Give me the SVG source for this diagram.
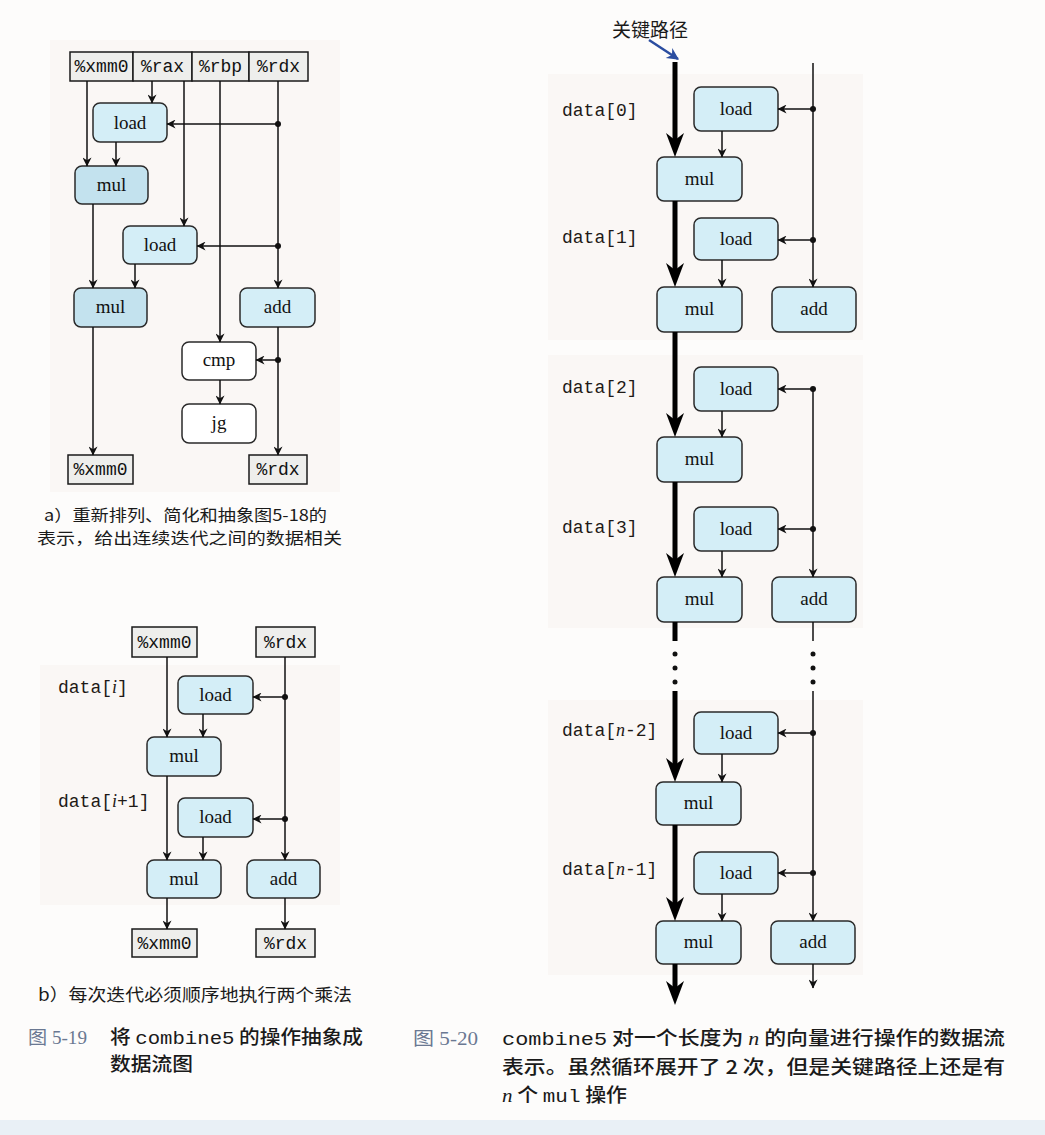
<svg xmlns="http://www.w3.org/2000/svg" width="1045" height="1135" viewBox="0 0 1045 1135">
<defs>
<style>
.bg{fill:#fdfcfb}
.panel{fill:#faf7f5}
.node{fill:#d4eef7;stroke:#2a2a2a;stroke-width:1.5}
.mulA{fill:#c3e2ee;stroke:#2a2a2a;stroke-width:1.5}
.plain{fill:#ffffff;stroke:#2a2a2a;stroke-width:1.5}
.reg{fill:#eeeeec;stroke:#1a1a1a;stroke-width:1.5}
.lbl{font-family:"Liberation Serif","Times New Roman",serif;font-size:19px;fill:#111;text-anchor:middle}
.rlbl{font-family:"Liberation Mono","Courier New",monospace;font-size:18px;fill:#111;text-anchor:middle}
.data{font-family:"Liberation Mono","Courier New",monospace;font-size:18px;fill:#1e1a16}
.it{font-family:"Liberation Serif","Times New Roman",serif;font-style:italic}
.cap{font-family:"Noto Sans CJK SC",sans-serif;fill:#1a1a1a}
.capnum{font-family:"Liberation Serif","Noto Sans CJK SC",serif;fill:#6a7892}
.mono{font-family:"Liberation Mono","Courier New",monospace}
.c{stroke:#111;stroke-width:1.5;fill:none}
.ca{stroke:#111;stroke-width:1.5;fill:none;marker-end:url(#arr)}
.thick{stroke:#000;stroke-width:5;fill:none}
.dot{fill:#111}
.head{fill:#000}
</style>
<marker id="arr" viewBox="0 0 10 10" refX="9.5" refY="5" markerWidth="10" markerHeight="9" markerUnits="userSpaceOnUse" orient="auto">
<path d="M0,0 L10,5 L0,10 L3,5 z" fill="#111"/>
</marker>
<marker id="barr" viewBox="0 0 10 10" refX="9" refY="5" markerWidth="16" markerHeight="12" markerUnits="userSpaceOnUse" orient="auto">
<path d="M0,0 L10,5 L0,10 L3,5 z" fill="#2b4da0"/>
</marker>
</defs>

<rect class="bg" x="0" y="0" width="1045" height="1135"/>
<rect class="panel" x="50" y="40" width="290" height="452"/>
<rect class="panel" x="40" y="665" width="300" height="240"/>
<rect class="panel" x="548" y="74" width="315" height="266"/>
<rect class="panel" x="548" y="355" width="315" height="273"/>
<rect class="panel" x="548" y="700" width="315" height="275"/>
<rect x="0" y="1120" width="1045" height="15" fill="#e9f0f6"/>

<!-- ===== Diagram (a) ===== -->
<g id="a-reg-xmm0"><rect class="reg" x="70" y="52" width="63" height="29"/><text class="rlbl" x="101.5" y="72">%xmm0</text></g>
<g id="a-reg-rax"><rect class="reg" x="133" y="52" width="59" height="29"/><text class="rlbl" x="162.5" y="72">%rax</text></g>
<g id="a-reg-rbp"><rect class="reg" x="192" y="52" width="57" height="29"/><text class="rlbl" x="220.5" y="72">%rbp</text></g>
<g id="a-reg-rdx"><rect class="reg" x="249" y="52" width="59" height="29"/><text class="rlbl" x="278.5" y="72">%rdx</text></g>
<g id="a-load1"><rect class="node" x="93" y="103" width="74" height="39" rx="7"/><text class="lbl" x="130" y="129">load</text></g>
<g id="a-mul1"><rect class="mulA" x="75" y="166" width="73" height="38" rx="7"/><text class="lbl" x="111.5" y="191">mul</text></g>
<g id="a-load2"><rect class="node" x="123" y="226" width="74" height="38" rx="7"/><text class="lbl" x="160" y="251">load</text></g>
<g id="a-mul2"><rect class="mulA" x="74" y="288" width="73" height="39" rx="7"/><text class="lbl" x="110.5" y="313">mul</text></g>
<g id="a-add"><rect class="node" x="240" y="288" width="75" height="39" rx="7"/><text class="lbl" x="277.5" y="313">add</text></g>
<g id="a-cmp"><rect class="plain" x="182" y="342" width="74" height="38" rx="7"/><text class="lbl" x="219" y="366">cmp</text></g>
<g id="a-jg"><rect class="plain" x="182" y="404" width="74" height="39" rx="7"/><text class="lbl" x="219" y="429">jg</text></g>
<g id="a-out-xmm0"><rect class="reg" x="68" y="455" width="65" height="29"/><text class="rlbl" x="100.5" y="475">%xmm0</text></g>
<g id="a-out-rdx"><rect class="reg" x="249" y="455" width="58" height="29"/><text class="rlbl" x="278" y="475">%rdx</text></g>

<!-- ===== Diagram (b) ===== -->
<g id="b-reg-xmm0"><rect class="reg" x="132" y="627" width="65" height="30"/><text class="rlbl" x="164.5" y="648">%xmm0</text></g>
<g id="b-reg-rdx"><rect class="reg" x="256" y="627" width="59" height="30"/><text class="rlbl" x="285.5" y="648">%rdx</text></g>
<g id="b-load1"><rect class="node" x="178" y="676" width="75" height="38" rx="7"/><text class="lbl" x="215.5" y="701">load</text></g>
<g id="b-mul1"><rect class="node" x="147" y="737" width="74" height="39" rx="7"/><text class="lbl" x="184" y="762">mul</text></g>
<g id="b-load2"><rect class="node" x="178" y="798" width="75" height="39" rx="7"/><text class="lbl" x="215.5" y="823">load</text></g>
<g id="b-mul2"><rect class="node" x="147" y="860" width="74" height="38" rx="7"/><text class="lbl" x="184" y="885">mul</text></g>
<g id="b-add"><rect class="node" x="247" y="860" width="73" height="38" rx="7"/><text class="lbl" x="283.5" y="885">add</text></g>
<g id="b-out-xmm0"><rect class="reg" x="132" y="929" width="65" height="28"/><text class="rlbl" x="164.5" y="949">%xmm0</text></g>
<g id="b-out-rdx"><rect class="reg" x="256" y="929" width="59" height="28"/><text class="rlbl" x="285.5" y="949">%rdx</text></g>
<g id="b-labels">
<text class="data" x="58" y="693">data[<tspan class="it">i</tspan>]</text>
<text class="data" x="58" y="807">data[<tspan class="it">i</tspan>+1]</text>
</g>

<!-- ===== Diagram 5-20 ===== -->
<g id="c-title"><text class="cap" x="612" y="37" font-size="19">关键路径</text></g>
<g id="c-load0"><rect class="node" x="694" y="87" width="84" height="44" rx="7"/><text class="lbl" x="736" y="115">load</text></g>
<g id="c-mul0"><rect class="node" x="657" y="157" width="85" height="44" rx="7"/><text class="lbl" x="699.5" y="185">mul</text></g>
<g id="c-load1"><rect class="node" x="694" y="218" width="84" height="42" rx="7"/><text class="lbl" x="736" y="245">load</text></g>
<g id="c-mul1"><rect class="node" x="657" y="287" width="85" height="45" rx="7"/><text class="lbl" x="699.5" y="315">mul</text></g>
<g id="c-add1"><rect class="node" x="772" y="287" width="84" height="45" rx="7"/><text class="lbl" x="814" y="315">add</text></g>
<g id="c-load2"><rect class="node" x="694" y="367" width="84" height="44" rx="7"/><text class="lbl" x="736" y="395">load</text></g>
<g id="c-mul2"><rect class="node" x="657" y="437" width="85" height="45" rx="7"/><text class="lbl" x="699.5" y="465">mul</text></g>
<g id="c-load3"><rect class="node" x="694" y="507" width="84" height="44" rx="7"/><text class="lbl" x="736" y="535">load</text></g>
<g id="c-mul3"><rect class="node" x="657" y="577" width="85" height="45" rx="7"/><text class="lbl" x="699.5" y="605">mul</text></g>
<g id="c-add3"><rect class="node" x="772" y="577" width="84" height="45" rx="7"/><text class="lbl" x="814" y="605">add</text></g>
<g id="c-loadn2"><rect class="node" x="694" y="712" width="84" height="42" rx="7"/><text class="lbl" x="736" y="739">load</text></g>
<g id="c-muln2"><rect class="node" x="656" y="782" width="85" height="43" rx="7"/><text class="lbl" x="698.5" y="809">mul</text></g>
<g id="c-loadn1"><rect class="node" x="694" y="852" width="84" height="42" rx="7"/><text class="lbl" x="736" y="879">load</text></g>
<g id="c-muln1"><rect class="node" x="656" y="921" width="85" height="43" rx="7"/><text class="lbl" x="698.5" y="948">mul</text></g>
<g id="c-addn1"><rect class="node" x="771" y="921" width="84" height="43" rx="7"/><text class="lbl" x="813" y="948">add</text></g>
<g id="c-labels">
<text class="data" x="562" y="116">data[0]</text>
<text class="data" x="562" y="243">data[1]</text>
<text class="data" x="562" y="393">data[2]</text>
<text class="data" x="562" y="533">data[3]</text>
<text class="data" x="562" y="736">data[<tspan class="it">n</tspan>-2]</text>
<text class="data" x="562" y="875">data[<tspan class="it">n</tspan>-1]</text>
</g>

<!-- ===== Connectors ===== -->
<g id="connectors">
<!-- (a) -->
<line class="ca" x1="87" y1="81" x2="87" y2="166"/>
<line class="ca" x1="152" y1="81" x2="152" y2="103"/>
<line class="ca" x1="184" y1="81" x2="184" y2="226"/>
<line class="ca" x1="220" y1="81" x2="220" y2="342"/>
<line class="ca" x1="278" y1="81" x2="278" y2="288"/>
<line class="ca" x1="278" y1="124" x2="167" y2="124"/>
<line class="ca" x1="278" y1="246" x2="197" y2="246"/>
<circle class="dot" cx="278" cy="124" r="3"/>
<circle class="dot" cx="278" cy="246" r="3"/>
<line class="ca" x1="116" y1="142" x2="116" y2="166"/>
<line class="ca" x1="93" y1="204" x2="93" y2="288"/>
<line class="ca" x1="135" y1="264" x2="135" y2="288"/>
<line class="ca" x1="93" y1="327" x2="93" y2="455"/>
<line class="ca" x1="278" y1="327" x2="278" y2="455"/>
<line class="ca" x1="278" y1="360" x2="256" y2="360"/>
<circle class="dot" cx="278" cy="360" r="3"/>
<line class="ca" x1="220" y1="380" x2="220" y2="404"/>
<!-- (b) -->
<line class="ca" x1="167" y1="657" x2="167" y2="737"/>
<line class="ca" x1="285" y1="657" x2="285" y2="860"/>
<line class="ca" x1="285" y1="697" x2="253" y2="697"/>
<line class="ca" x1="285" y1="819" x2="253" y2="819"/>
<circle class="dot" cx="285" cy="697" r="3"/>
<circle class="dot" cx="285" cy="819" r="3"/>
<line class="ca" x1="203" y1="714" x2="203" y2="737"/>
<line class="ca" x1="167" y1="776" x2="167" y2="860"/>
<line class="ca" x1="203" y1="837" x2="203" y2="860"/>
<line class="ca" x1="167" y1="898" x2="167" y2="929"/>
<line class="ca" x1="285" y1="898" x2="285" y2="929"/>
<!-- 5-20 title arrow -->
<line x1="649" y1="40" x2="678" y2="59" stroke="#2b4da0" stroke-width="2.5" marker-end="url(#barr)"/>
<!-- thick critical path -->
<line class="thick" x1="675" y1="62" x2="675" y2="140"/>
<polygon class="head" points="675,157 666,133 675,140 684,133"/>
<line class="thick" x1="675" y1="201" x2="675" y2="270"/>
<polygon class="head" points="675,287 666,263 675,270 684,263"/>
<line class="thick" x1="675" y1="332" x2="675" y2="420"/>
<polygon class="head" points="675,437 666,413 675,420 684,413"/>
<line class="thick" x1="675" y1="482" x2="675" y2="560"/>
<polygon class="head" points="675,577 666,553 675,560 684,553"/>
<line class="thick" x1="675" y1="622" x2="675" y2="641"/>
<circle class="dot" cx="675" cy="654" r="2.5"/>
<circle class="dot" cx="675" cy="668" r="2.5"/>
<circle class="dot" cx="675" cy="682" r="2.5"/>
<line class="thick" x1="675" y1="691" x2="675" y2="765"/>
<polygon class="head" points="675,782 666,758 675,765 684,758"/>
<line class="thick" x1="675" y1="825" x2="675" y2="904"/>
<polygon class="head" points="675,921 666,897 675,904 684,897"/>
<line class="thick" x1="675" y1="964" x2="675" y2="988"/>
<polygon class="head" points="675,1005 666,981 675,988 684,981"/>
<!-- load -> mul -->
<line class="ca" x1="722" y1="131" x2="722" y2="157"/>
<line class="ca" x1="722" y1="260" x2="722" y2="287"/>
<line class="ca" x1="722" y1="411" x2="722" y2="437"/>
<line class="ca" x1="722" y1="551" x2="722" y2="577"/>
<line class="ca" x1="722" y1="754" x2="722" y2="782"/>
<line class="ca" x1="722" y1="894" x2="722" y2="921"/>
<!-- index line -->
<line class="ca" x1="813" y1="63" x2="813" y2="287"/>
<line class="ca" x1="813" y1="109" x2="778" y2="109"/>
<line class="ca" x1="813" y1="240" x2="778" y2="240"/>
<circle class="dot" cx="813" cy="109" r="3"/>
<circle class="dot" cx="813" cy="240" r="3"/>
<line class="ca" x1="813" y1="389" x2="813" y2="577"/>
<line class="ca" x1="813" y1="389" x2="778" y2="389"/>
<line class="ca" x1="813" y1="529" x2="778" y2="529"/>
<circle class="dot" cx="813" cy="389" r="3"/>
<circle class="dot" cx="813" cy="529" r="3"/>
<line class="c" x1="813" y1="622" x2="813" y2="641"/>
<circle class="dot" cx="813" cy="654" r="2.5"/>
<circle class="dot" cx="813" cy="668" r="2.5"/>
<circle class="dot" cx="813" cy="682" r="2.5"/>
<line class="ca" x1="813" y1="691" x2="813" y2="921"/>
<line class="ca" x1="813" y1="733" x2="778" y2="733"/>
<line class="ca" x1="813" y1="873" x2="778" y2="873"/>
<circle class="dot" cx="813" cy="733" r="3"/>
<circle class="dot" cx="813" cy="873" r="3"/>
<line class="ca" x1="813" y1="964" x2="813" y2="988"/>
</g>

<!-- ===== Captions ===== -->
<g id="captions">
<text class="cap" x="44" y="521" font-size="16" textLength="283" lengthAdjust="spacingAndGlyphs">a）重新排列、简化和抽象图5-18的</text>
<text class="cap" x="37" y="544" font-size="16" textLength="305" lengthAdjust="spacingAndGlyphs">表示，给出连续迭代之间的数据相关</text>
<text class="cap" x="38" y="1001" font-size="17" textLength="314" lengthAdjust="spacingAndGlyphs">b）每次迭代必须顺序地执行两个乘法</text>
<text class="capnum" x="28" y="1044" font-size="18" textLength="59" lengthAdjust="spacingAndGlyphs">图 5-19</text>
<text class="cap" x="110" y="1044" font-size="19" font-weight="500" textLength="253" lengthAdjust="spacingAndGlyphs">将 <tspan class="mono">combine5</tspan> 的操作抽象成</text>
<text class="cap" x="110" y="1071" font-size="19" font-weight="500" textLength="83" lengthAdjust="spacingAndGlyphs">数据流图</text>
<text class="capnum" x="413" y="1045" font-size="18" textLength="65" lengthAdjust="spacingAndGlyphs">图 5-20</text>
<text class="cap" x="502" y="1045" font-size="19" font-weight="500" textLength="503" lengthAdjust="spacingAndGlyphs"><tspan class="mono">combine5</tspan> 对一个长度为 <tspan class="it">n</tspan> 的向量进行操作的数据流</text>
<text class="cap" x="502" y="1074" font-size="19" font-weight="500" textLength="503" lengthAdjust="spacingAndGlyphs">表示。虽然循环展开了 2 次，但是关键路径上还是有</text>
<text class="cap" x="502" y="1102" font-size="19" font-weight="500" textLength="125" lengthAdjust="spacingAndGlyphs"><tspan class="it">n</tspan> 个 <tspan class="mono">mul</tspan> 操作</text>
</g>
</svg>
